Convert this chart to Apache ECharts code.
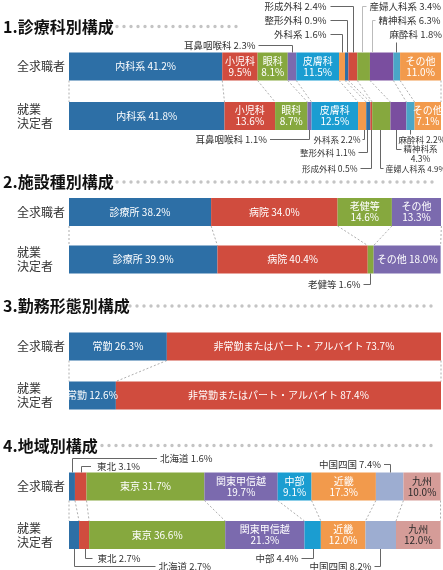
<!DOCTYPE html>
<html>
<head>
<meta charset="utf-8">
<script src="https://cdn.jsdelivr.net/npm/echarts@6/dist/echarts.min.js"></script>
<style>
html, body { margin: 0; padding: 0; background: #fff; }
#chart { width: 443px; height: 570px; }
</style>
</head>
<body>
<div id="chart"></div>
<script>
// 行ラベル
var rowNames = ['全求職者', '就業\n決定者'];

// 1. 診療科別構成
var deptNames = ['内科系', '小児科', '眼科', '耳鼻咽喉科', '皮膚科', '外科系', '整形外科', '形成外科', '産婦人科系', '精神科系', '麻酔科', 'その他'];
var deptAll = [41.2, 9.5, 8.1, 2.3, 11.5, 1.6, 0.9, 2.4, 3.4, 6.3, 1.8, 11.0];
var deptDecided = [41.8, 13.6, 8.7, 1.1, 12.5, 2.2, 1.1, 0.5, 4.9, 4.3, 2.2, 7.1];

// 2. 施設種別構成
var facilityNames = ['診療所', '病院', '老健等', 'その他'];
var facilityAll = [38.2, 34.0, 14.6, 13.3];
var facilityDecided = [39.9, 40.4, 1.6, 18.0];

// 3. 勤務形態別構成
var workNames = ['常勤', '非常勤またはパート・アルバイト'];
var workAll = [26.3, 73.7];
var workDecided = [12.6, 87.4];

// 4. 地域別構成
var regionNames = ['北海道', '東北', '東京', '関東甲信越', '中部', '近畿', '中国四国', '九州'];
var regionAll = [1.6, 3.1, 31.7, 19.7, 9.1, 17.3, 7.4, 10.0];
var regionDecided = [2.7, 2.7, 36.6, 21.3, 4.4, 12.0, 8.2, 12.0];

var FONT = '"Noto Sans CJK JP", "Noto Sans", sans-serif';
var BAR_H = 28;
var BLUE = '#2d6fa6', RED = '#d04c3e', GREEN = '#86a83e', PURPLE = '#7b6aae',
	CYAN = '#1b9dd1', ORANGE = '#f29a4c';

// レイアウト (mode: 1=一行ラベル, 2=二行ラベル, 0=引き出し線)
var sections = [ {
	title : '1.診療科別構成',
	titleY : 26.5,
	dots : [ 110, 242 ],
	top : 41.75,
	height : 99,
	names : deptNames,
	rows : [ deptAll, deptDecided ],
	colors : [ BLUE, RED, GREEN, PURPLE, CYAN, ORANGE, BLUE, RED, GREEN, '#7a4e9f', '#4aa6c7', ORANGE ],
	modes : [ [ 1, 2, 2, 0, 2, 0, 0, 0, 0, 0, 0, 2 ], [ 1, 2, 2, 0, 2, 0, 0, 0, 0, 0, 0, 2 ] ],
	callouts : [
		{ row : 0, i : 3, ax : 0, dy : -8, run : -34, tx : -3, align : 'right' },
		{ row : 0, i : 5, ax : 0, dy : -18.5, run : -12, tx : -4, align : 'right' },
		{ row : 0, i : 6, ax : 0, dy : -32.5, run : -17, tx : -4, align : 'right' },
		{ row : 0, i : 7, ax : 0, dy : -46.5, run : -23, tx : -4, align : 'right' },
		{ row : 0, i : 8, ax : -2, dy : -46.5, run : 4, tx : 3, align : 'left', light : true },
		{ row : 0, i : 9, ax : -10, dy : -32.5, run : 3, tx : 3, align : 'left', light : true },
		{ row : 0, i : 10, ax : -1, dy : -11, run : 0, tx : -7, ty : -8, align : 'left' },
		{ row : 1, i : 3, ax : 0, dy : 9, run : -39.5, tx : -3, align : 'right' },
		{ row : 1, i : 5, ax : 2, dy : 9, run : -2, tx : -2, align : 'right', fs : 8.5 },
		{ row : 1, i : 6, ax : -1, dy : 22, run : -9, tx : -3, align : 'right', fs : 8.5 },
		{ row : 1, i : 7, ax : 0, dy : 38, run : -11, tx : -3, align : 'right', fs : 8.5 },
		{ row : 1, i : 8, ax : -1, dy : 38, run : 3, tx : 2, align : 'left', fs : 8 },
		{ row : 1, i : 9, ax : -2, dy : 19, run : 5, tx : 19, ty : 4.5, align : 'center', wrap : true, fs : 8.5 },
		{ row : 1, i : 10, ax : 0, dy : 4, run : 0, tx : -12, ty : 5, align : 'left', fs : 8.5 }
	]
}, {
	title : '2.施設種別構成',
	titleY : 182,
	dots : [ 110, 437 ],
	top : 188.25,
	height : 95,
	names : facilityNames,
	rows : [ facilityAll, facilityDecided ],
	colors : [ BLUE, RED, GREEN, PURPLE ],
	modes : [ [ 1, 1, 2, 2 ], [ 1, 1, 0, 1 ] ],
	callouts : [
		{ row : 1, i : 2, ax : -1, dy : 10.5, run : -7, tx : -3, align : 'right' }
	]
}, {
	title : '3.勤務形態別構成',
	titleY : 306,
	dots : [ 123, 437 ],
	top : 322,
	height : 98,
	names : workNames,
	rows : [ workAll, workDecided ],
	colors : [ BLUE, RED ],
	modes : [ [ 1, 1 ], [ 1, 1 ] ],
	callouts : []
}, {
	title : '4.地域別構成',
	titleY : 445.5,
	dots : [ 95, 433 ],
	top : 462.25,
	height : 97,
	names : regionNames,
	rows : [ regionAll, regionDecided ],
	colors : [ BLUE, RED, GREEN, PURPLE, CYAN, ORANGE, '#9dadd1', '#d59c98' ],
	textColors : { 7 : '#2a2a2a' },
	modes : [ [ 0, 0, 1, 2, 2, 2, 0, 2 ], [ 0, 0, 1, 2, 0, 2, 0, 2 ] ],
	callouts : [
		{ row : 0, i : 0, ax : 0, dy : -15, run : 84.5, tx : 3, align : 'left' },
		{ row : 0, i : 1, ax : 0, dy : -7, run : 9.5, tx : 6, align : 'left' },
		{ row : 0, i : 6, ax : 0, dy : -8.5, run : -6.5, tx : -3, align : 'right' },
		{ row : 1, i : 1, ax : 1, dy : 9, run : 7, tx : 5, align : 'left' },
		{ row : 1, i : 0, ax : 0, dy : 16.5, run : 81, tx : 3, align : 'left' },
		{ row : 1, i : 4, ax : 0, dy : 9, run : -12, tx : -3, align : 'right' },
		{ row : 1, i : 6, ax : -1, dy : 17, run : -6, tx : -3, align : 'right' }
	]
} ];

function pct(v) {
	return v.toFixed(1) + '%';
}

// 累積値 (各区分の開始位置)
function cumStarts(values) {
	var acc = 0;
	return values.map(function(v) {
		var s = acc;
		acc += v;
		return s;
	});
}

// 上下の棒をつなぐ点線
function connectorItem(params, api) {
	var a = api.coord([ api.value(0), 0 ]);
	var b = api.coord([ api.value(2), 1 ]);
	return {
		type : 'line',
		shape : { x1 : a[0], y1 : a[1] + BAR_H / 2, x2 : b[0], y2 : b[1] - BAR_H / 2 },
		style : { stroke : '#999', lineWidth : 0.8, lineDash : [ 2, 2 ] }
	};
}

// 引き出し線つきラベル
function calloutRenderer(sec) {
	return function(params, api) {
		var c = sec.callouts[params.dataIndex];
		var p = api.coord([ api.value(0), api.value(1) ]);
		var x = Math.round(p[0] + c.ax) + 0.5;
		var edge = c.row === 0 ? p[1] - BAR_H / 2 : p[1] + BAR_H / 2;
		var ey = Math.round(edge + c.dy) + 0.5;
		var ex = x + c.run;
		var v = sec.rows[c.row][c.i];
		var txt = sec.names[c.i] + (c.wrap ? '\n' : ' ') + pct(v);
		return {
			type : 'group',
			children : [ {
				type : 'polyline',
				shape : { points : [ [ x, edge ], [ x, ey ], [ ex, ey ] ] },
				style : { stroke : c.light ? '#bbb' : '#666', lineWidth : 1, fill : null }
			}, {
				type : 'text',
				x : ex + c.tx,
				y : ey + (c.ty || 0),
				style : {
					text : txt,
					fill : '#333',
					fontSize : c.fs || 9.5,
					fontFamily : FONT,
					lineHeight : 10,
					align : c.align,
					verticalAlign : 'middle'
				}
			} ]
		};
	};
}

var grids = [], xAxes = [], yAxes = [], series = [], titles = [], graphics = [];

sections.forEach(function(sec, k) {
	grids.push({ left : 69, right : 2, top : sec.top, height : sec.height });
	xAxes.push({ type : 'value', gridIndex : k, min : 0, max : 100, show : false });
	yAxes.push({
		type : 'category',
		gridIndex : k,
		data : rowNames,
		inverse : true,
		axisLine : { show : false },
		axisTick : { show : false },
		axisLabel : {
			align : 'left',
			margin : 52,
			fontSize : 12,
			lineHeight : 14,
			color : '#333',
			fontFamily : FONT
		}
	});
	titles.push({
		text : sec.title,
		left : 3,
		top : sec.titleY - 10,
		padding : 0,
		textStyle : { fontSize : 16, fontWeight : 'bold', color : '#111', fontFamily : FONT, lineHeight : 20 }
	});
	graphics.push({
		type : 'line',
		shape : { x1 : sec.dots[0], y1 : sec.titleY, x2 : sec.dots[1], y2 : sec.titleY },
		style : { stroke : '#c4c4c4', lineWidth : 3.4, lineCap : 'round', lineDash : [ 0, 7 ] }
	});

	// 積み上げ棒
	sec.names.forEach(function(name, i) {
		var textColor = (sec.textColors && sec.textColors[i]) || '#fff';
		series.push({
			name : name,
			type : 'bar',
			stack : 's' + k,
			xAxisIndex : k,
			yAxisIndex : k,
			barWidth : BAR_H,
			itemStyle : { color : sec.colors[i] },
			data : sec.rows.map(function(row, r) {
				var mode = sec.modes[r][i];
				return {
					value : row[i],
					label : {
						show : mode > 0,
						position : 'inside',
						color : textColor,
						fontSize : 10,
						lineHeight : 11,
						fontFamily : FONT,
						formatter : name + (mode === 2 ? '\n' : ' ') + pct(row[i])
					}
				};
			})
		});
	});

	// 点線の接続線
	var s0 = cumStarts(sec.rows[0]), s1 = cumStarts(sec.rows[1]);
	var n = sec.names.length;
	var tot0 = s0[n - 1] + sec.rows[0][n - 1], tot1 = s1[n - 1] + sec.rows[1][n - 1];
	var links = s0.map(function(v, i) {
		return [ v, 0, s1[i] ];
	});
	links.push([ tot0, 0, tot1 ]);
	series.push({
		type : 'custom',
		xAxisIndex : k,
		yAxisIndex : k,
		encode : { x : [ 0, 2 ], y : 1 },
		renderItem : connectorItem,
		silent : true,
		z : 1,
		data : links
	});

	// 引き出し線ラベル
	if (sec.callouts.length) {
		var starts = [ s0, s1 ];
		series.push({
			type : 'custom',
			xAxisIndex : k,
			yAxisIndex : k,
			encode : { x : 0, y : 1 },
			renderItem : calloutRenderer(sec),
			silent : true,
			z : 3,
			data : sec.callouts.map(function(c) {
				return [ starts[c.row][c.i] + sec.rows[c.row][c.i] / 2, c.row ];
			})
		});
	}
});

var myChart = echarts.init(document.getElementById('chart'));
myChart.setOption({
	animation : false,
	title : titles,
	grid : grids,
	xAxis : xAxes,
	yAxis : yAxes,
	graphic : graphics,
	series : series
});
</script>
</body>
</html>
